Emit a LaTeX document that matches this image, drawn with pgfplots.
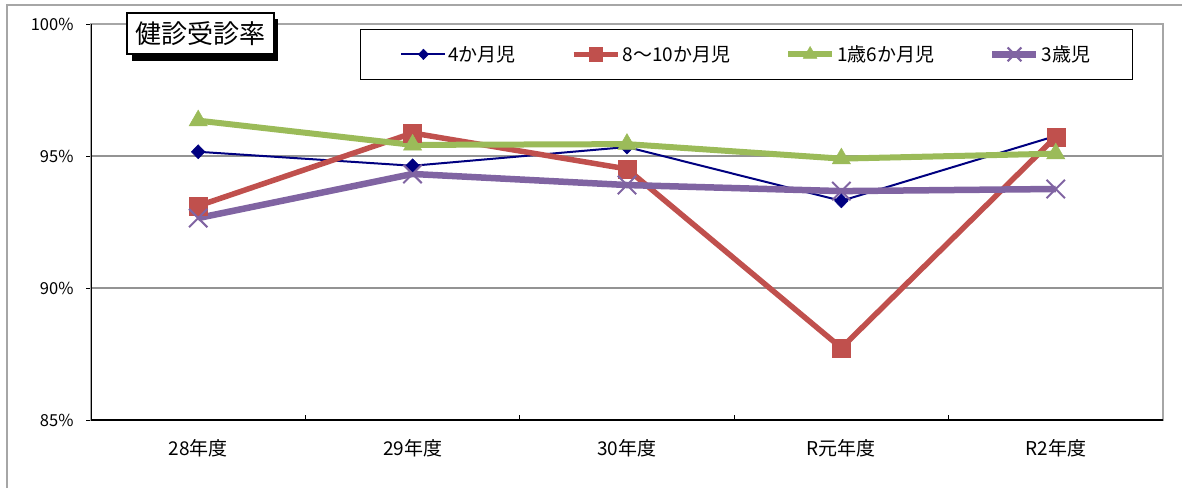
\documentclass[border=0pt]{standalone}
\usepackage{fontspec}
\setmainfont{Noto Sans CJK JP}
\usepackage{pgfplots}
\pgfplotsset{compat=1.18}
\definecolor{cnavy}{RGB}{0,0,128}
\definecolor{cred}{RGB}{192,80,77}
\definecolor{cgreen}{RGB}{155,187,89}
\definecolor{cpurple}{RGB}{128,100,162}
\begin{document}
\begin{tikzpicture}[x=1pt,y=1pt]
\path[use as bounding box] (0,0) rectangle (1182,488);
\draw[gray!70, line width=2pt] (7,0) -- (7,483) -- (1182,483);
\begin{axis}[
  at={(91pt,68pt)}, anchor=south west,
  scale only axis, width=1072pt, height=396pt,
  xmin=-0.5, xmax=4.5, ymin=85, ymax=100,
  xtick={0,1,2,3,4},
  xticklabels={28年度,29年度,30年度,R元年度,R2年度},
  major x tick style={draw=none},
  extra x ticks={0.5,1.5,2.5,3.5},
  extra x tick labels={},
  extra x tick style={major tick length=5pt, tick align=inside, major x tick style={draw=black, line width=0.8pt}},
  xtick pos=bottom,
  ytick={85,90,95,100},
  yticklabels={85\%,90\%,95\%,100\%},
  ytick pos=left,
  ytick align=outside,
  major tick length=5pt,
  tick style={black, line width=0.8pt},
  ymajorgrids,
  grid style={gray!85, line width=1.2pt},
  axis line style={gray!70, line width=1.8pt},
  xticklabel style={font=\fontsize{19}{22}\selectfont, yshift=-16pt},
  yticklabel style={font=\fontsize{16.5}{19}\selectfont, xshift=-9pt},
  legend columns=4,
  legend style={at={(axis description cs:0.2509,0.987)}, anchor=north west,
    draw=black, line width=1pt, fill=white,
    font=\fontsize{19}{22}\selectfont,
    inner xsep=40pt, inner ysep=14pt,
    /tikz/every even column/.append style={column sep=53pt}},
  legend image code/.code={\draw[mark repeat=2,mark phase=2,#1,/tikz/every mark/.append style={scale=0.75}] plot coordinates {(0pt,0pt) (22pt,0pt) (44pt,0pt)};},
]
\addplot[color=cnavy, line width=2pt, mark=diamond*, mark size=7pt, mark options={solid, fill=cnavy, line width=0.5pt, xscale=1.3}]
  coordinates {(0,95.16) (1,94.63) (2,95.34) (3,93.30) (4,95.76)};
\addlegendentry{4か月児}
\addplot[color=cred, line width=5.5pt, mark=square*, mark size=9pt, mark options={solid, fill=cred, line width=0.5pt}]
  coordinates {(0,93.11) (1,95.87) (2,94.51) (3,87.73) (4,95.72)};
\addlegendentry{8〜10か月児}
\addplot[color=cgreen, line width=6pt, mark=triangle*, mark size=10.5pt, mark options={solid, fill=cgreen, line width=0.5pt}]
  coordinates {(0,96.34) (1,95.42) (2,95.45) (3,94.90) (4,95.09)};
\addlegendentry{1歳6か月児}
\addplot[color=cpurple, line width=6.5pt, mark=x, mark size=13pt, mark options={solid, line width=2pt}]
  coordinates {(0,92.65) (1,94.32) (2,93.90) (3,93.67) (4,93.75)};
\addlegendentry{3歳児}
\draw[black, line width=1.8pt] (rel axis cs:0,1) -- (rel axis cs:0,0) -- (rel axis cs:1,0);
\end{axis}
\fill[black] (132,427) rectangle (278,469);
\node[draw=black, fill=white, line width=1.2pt, minimum width=147pt, minimum height=41pt, inner sep=0pt,
  font=\fontsize{26}{30}\selectfont] at (200.5,454.5) {健診受診率};
\end{tikzpicture}
\end{document}
